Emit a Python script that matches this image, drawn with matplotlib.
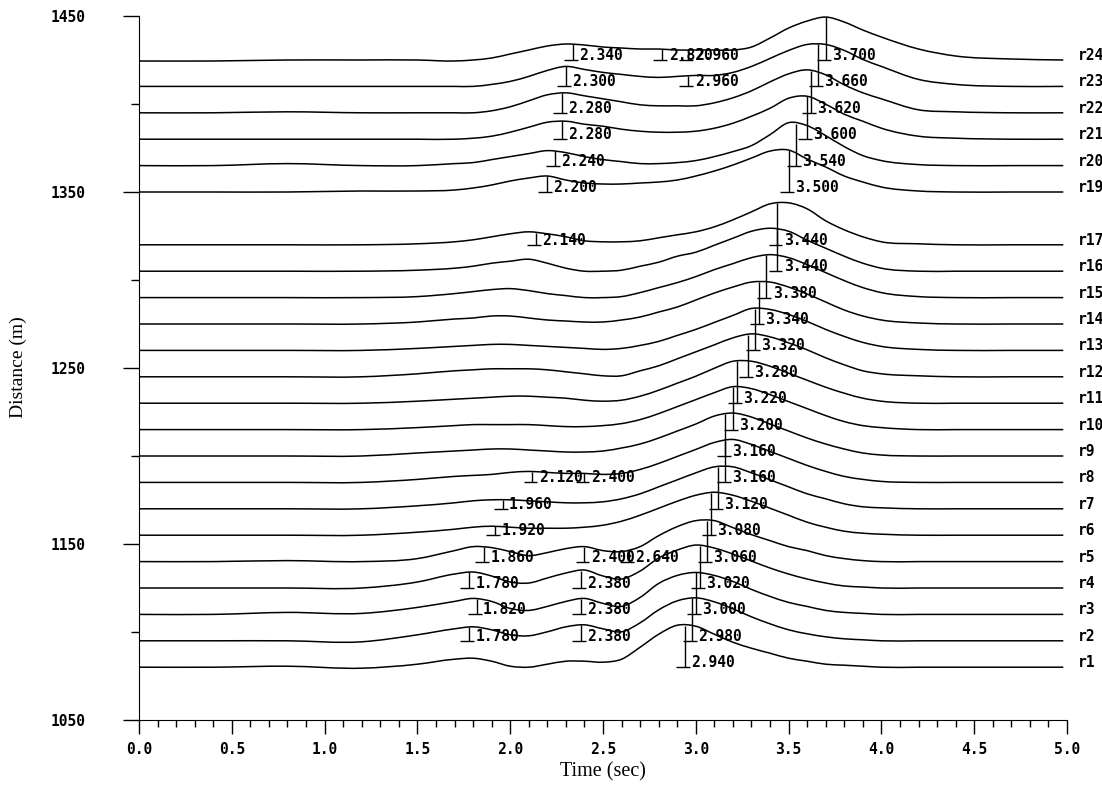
import numpy as np
import matplotlib
matplotlib.use('Agg')
import matplotlib.pyplot as plt
from matplotlib.path import Path
from matplotlib.patches import PathPatch
from matplotlib.ticker import MultipleLocator, FormatStrFormatter

# sample times (sec) shared by all traces
times = [0.0, 0.4, 0.8, 1.2, 1.5, 1.7, 1.8, 1.9, 2.0, 2.1, 2.2, 2.3, 2.4, 2.5,
         2.6, 2.7, 2.8, 2.9, 3.0, 3.1, 3.2, 3.3, 3.4, 3.5, 3.6, 3.7, 3.8, 3.9,
         4.0, 4.2, 4.4, 4.7, 4.98]

# trace amplitudes (relative units, peak ~43)
r1 = [0, 0, 1, -1, 3, 8, 9, 6, 1, 0, 3, 6, 6, 5, 8, 20, 33, 42, 41, 33, 25, 19, 14, 9, 6, 3, 2, 1, 0, 0, 0, 0, 0]
r2 = [0, 0, 0, -1, 6, 12, 14, 11, 6, 5, 9, 14, 16, 12, 9, 18, 31, 40, 43, 39, 32, 24, 17, 11, 7, 4, 2, 1, 0, 0, 0, 0, 0]
r3 = [0, 0, 2, 1, 7, 13, 16, 13, 6, 4, 8, 13, 16, 11, 8, 17, 31, 39, 42, 39, 33, 25, 18, 12, 8, 4, 2, 1, 0, 0, 0, 0, 0]
r4 = [0, 0, 0, 0, 6, 14, 16, 12, 6, 5, 10, 15, 18, 12, 9, 17, 30, 38, 43, 40, 34, 27, 20, 14, 9, 5, 2, 1, 0, 0, 0, 0, 0]
r5 = [0, 0, 1, 0, 3, 11, 15, 14, 10, 6, 9, 13, 15, 11, 10, 15, 26, 35, 41, 41, 34, 27, 21, 15, 11, 6, 3, 1, 0, 0, 0, 0, 0]
r6 = [0, 0, 0, 0, 3, 6, 8, 9, 8, 7, 7, 7, 8, 10, 14, 20, 27, 34, 40, 43, 40, 34, 27, 20, 13, 8, 4, 2, 1, 0, 0, 0, 0]
r7 = [0, 0, 0, 0, 3, 6, 8, 9, 9, 8, 7, 6, 6, 7, 10, 15, 22, 29, 36, 42, 42, 36, 29, 22, 15, 10, 5, 2, 1, 0, 0, 0, 0]
r8 = [0, 0, 0, 0, 3, 6, 7, 8, 10, 11, 10, 9, 9, 8, 9, 13, 19, 26, 33, 40, 43, 38, 31, 24, 17, 11, 6, 3, 1, 0, 0, 0, 0]
r9 = [0, 0, 0, 0, 3, 5, 6, 7, 7, 6, 5, 4, 4, 5, 8, 12, 18, 25, 32, 40, 43, 39, 32, 25, 18, 12, 7, 3, 1, 0, 0, 0, 0]
r10 = [0, 0, 0, 0, 2, 4, 5, 5, 5, 5, 4, 3, 3, 4, 6, 10, 16, 23, 30, 37, 43, 41, 35, 28, 21, 14, 8, 4, 2, 0, 0, 0, 0]
r11 = [0, 0, 0, 0, 2, 4, 5, 6, 7, 7, 6, 5, 3, 2, 3, 7, 13, 20, 27, 35, 42, 42, 37, 30, 23, 16, 10, 5, 2, 0, 0, 0, 0]
r12 = [0, 0, 0, 0, 3, 6, 7, 8, 8, 8, 7, 5, 3, 1, 1, 6, 11, 18, 25, 32, 39, 43, 40, 34, 27, 19, 12, 6, 3, 1, 0, 0, 0]
r13 = [0, 0, 0, 0, 2, 4, 5, 6, 6, 5, 4, 3, 2, 1, 2, 5, 9, 15, 21, 28, 35, 42, 41, 36, 29, 21, 14, 8, 4, 1, 0, 0, 0]
r14 = [0, 0, 0, 0, 2, 5, 6, 8, 8, 6, 4, 3, 2, 2, 4, 7, 12, 17, 24, 31, 37, 42, 42, 37, 30, 22, 14, 8, 4, 1, 0, 0, 0]
r15 = [0, 0, 0, 0, 1, 4, 6, 8, 9, 7, 4, 2, 0, 0, 1, 5, 10, 15, 21, 28, 34, 40, 43, 40, 33, 25, 17, 10, 5, 1, 0, 0, 0]
r16 = [0, 0, 0, 0, 1, 3, 5, 8, 10, 12, 8, 3, 0, 0, 1, 5, 9, 15, 19, 26, 33, 40, 43, 40, 31, 23, 15, 8, 3, 0, 0, 0, 0]
r17 = [0, 0, 0, 0, 1, 3, 5, 8, 11, 13, 11, 8, 4, 3, 3, 4, 7, 10, 13, 18, 25, 33, 41, 42, 36, 24, 15, 8, 3, 1, 0, 0, 0]
r19 = [0, 0, 0, 1, 1, 2, 4, 7, 11, 14, 16, 12, 9, 8, 8, 9, 10, 12, 16, 21, 27, 34, 41, 42, 33, 25, 16, 10, 5, 1, 0, 0, 0]
r20 = [0, 0, 2, 0, 0, 2, 3, 6, 9, 12, 15, 13, 9, 6, 4, 2, 2, 3, 5, 9, 14, 20, 31, 43, 40, 30, 19, 10, 5, 1, 0, 0, 0]
r21 = [0, 0, 0, 0, 0, 0, 1, 3, 7, 12, 17, 18, 15, 13, 10, 8, 7, 7, 8, 11, 16, 23, 31, 41, 43, 35, 25, 18, 11, 3, 1, 0, 0]
r22 = [0, 0, 1, 0, 0, 0, 0, 2, 6, 12, 18, 20, 17, 14, 11, 8, 7, 7, 7, 10, 15, 22, 31, 39, 43, 38, 28, 20, 14, 3, 1, 0, 0]
r23 = [0, 0, 0, 0, 0, 0, 0, 2, 5, 10, 16, 20, 17, 14, 12, 10, 9, 10, 11, 11, 14, 20, 28, 36, 42, 42, 36, 27, 20, 7, 2, 0, 0]
r24 = [-1, -1, 0, 0, 0, -1, 0, 2, 6, 10, 14, 16, 15, 13, 12, 11, 11, 10, 10, 10, 10, 13, 22, 32, 39, 43, 38, 30, 23, 11, 4, 1, 0]

trace_names = ['r1', 'r2', 'r3', 'r4', 'r5', 'r6', 'r7', 'r8', 'r9', 'r10', 'r11', 'r12',
               'r13', 'r14', 'r15', 'r16', 'r17', 'r19', 'r20', 'r21', 'r22', 'r23', 'r24']
distances = [1080, 1095, 1110, 1125, 1140, 1155, 1170, 1185, 1200, 1215, 1230, 1245,
             1260, 1275, 1290, 1305, 1320, 1350, 1365, 1380, 1395, 1410, 1425]
traces = [r1, r2, r3, r4, r5, r6, r7, r8, r9, r10, r11, r12,
          r13, r14, r15, r16, r17, r19, r20, r21, r22, r23, r24]

# picked arrival times for each trace
picks = [[2.94], [1.78, 2.38, 2.98], [1.82, 2.38, 3.00], [1.78, 2.38, 3.02],
         [1.86, 2.40, 2.64, 3.06], [1.92, 3.08], [1.96, 3.12], [2.12, 2.40, 3.16],
         [3.16], [3.20], [3.22], [3.28], [3.32], [3.34], [3.38], [3.44],
         [2.14, 3.44], [2.20, 3.50], [2.24, 3.54], [2.28, 3.60], [2.28, 3.62],
         [2.30, 2.96, 3.66], [2.34, 2.82, 2.96, 3.70]]

gain = 24.4 / 43  # metres of offset per amplitude unit

mono = 'DejaVu Sans Mono'
serif = 'Liberation Serif'


# smooth curve through the samples, drawn as bezier segments
def smooth_path(x, y):
    x = np.asarray(x, float)
    y = np.asarray(y, float)
    slope = np.gradient(y, x)
    verts = [(x[0], y[0])]
    codes = [Path.MOVETO]
    for i in range(len(x) - 1):
        h = (x[i + 1] - x[i]) / 3
        verts += [(x[i] + h, y[i] + slope[i] * h),
                  (x[i + 1] - h, y[i + 1] - slope[i + 1] * h),
                  (x[i + 1], y[i + 1])]
        codes += [Path.CURVE4] * 3
    return Path(verts, codes)


fig = plt.figure(figsize=(11.02, 7.87), dpi=100)
ax = fig.add_axes([139 / 1102, 1 - 720 / 787, (1067 - 139) / 1102, (720 - 16) / 787])

t = np.array(times)
for name, d, amp, pk in zip(trace_names, distances, traces, picks):
    y = d + gain * np.array(amp)
    ax.add_patch(PathPatch(smooth_path(t, y), facecolor='none', edgecolor='black', lw=1.1))
    ax.text(5.06, d, name, family=mono, fontweight='bold', fontsize=10.5,
            va='baseline', ha='left', clip_on=False)
    for p in pk:
        top = d + gain * np.interp(p, t, amp)
        ax.vlines(p, d, top, color='black', lw=1)
        ax.hlines(d, p - 0.048, p + 0.027, color='black', lw=1)
        ax.annotate(f'{p:.3f}', (p, d), xytext=(4.5, 0), textcoords='offset points',
                    family=mono, fontweight='bold', fontsize=10.5, va='baseline', ha='left')

ax.set_xlim(0, 5)
ax.set_ylim(1050, 1450)
ax.spines['top'].set_visible(False)
ax.spines['right'].set_visible(False)

ax.xaxis.set_major_locator(MultipleLocator(0.5))
ax.xaxis.set_minor_locator(MultipleLocator(0.1))
ax.xaxis.set_major_formatter(FormatStrFormatter('%.1f'))
ax.set_yticks([1050, 1150, 1250, 1350, 1450])
ax.set_yticks([1100, 1200, 1300, 1400], minor=True)

ax.tick_params(axis='x', which='major', direction='out', length=10, width=1, pad=6)
ax.tick_params(axis='x', which='minor', direction='out', length=5, width=1)
ax.tick_params(axis='y', which='major', direction='out', length=11.5, width=1, pad=27)
ax.tick_params(axis='y', which='minor', direction='out', length=5.8, width=1)
for lab in ax.get_xticklabels() + ax.get_yticklabels():
    lab.set_family(mono)
    lab.set_fontweight('bold')
    lab.set_fontsize(10.5)

fig.text(603 / 1102, 1 - 772 / 787, 'Time (sec)', family=serif, fontsize=14.5,
         ha='center', va='center')
fig.text(18 / 1102, 1 - 367 / 787, 'Distance (m)', family=serif, fontsize=14,
         rotation=90, ha='center', va='center')

fig.savefig('out.png', dpi=100)
